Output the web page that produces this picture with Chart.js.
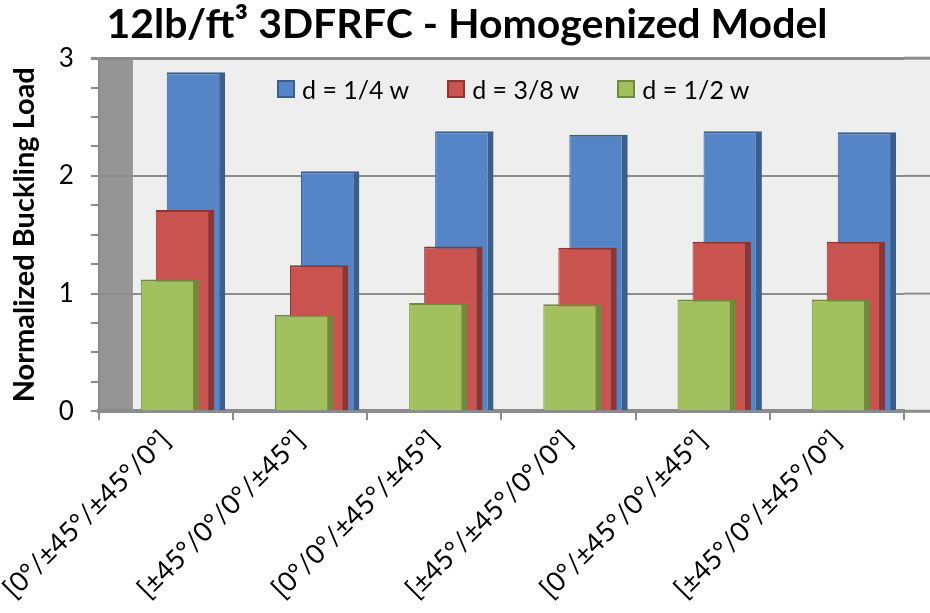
<!DOCTYPE html>
<html>
<head>
<meta charset="utf-8">
<script src="https://cdn.jsdelivr.net/npm/chart.js@4.4.1/dist/chart.umd.min.js"></script>
<style>
  html, body { margin: 0; padding: 0; background: #fff; }
  #wrap { position: relative; width: 930px; height: 613px; }
  #legend { position: absolute; left: 277px; top: 74px; display: flex; font-family: Lato, sans-serif; font-size: 25px; color: #000; }
  #legend .item { display: flex; align-items: center; margin-right: 38px; }
  #legend .box { width: 18px; height: 18px; border: 2px solid; margin-right: 7px; box-sizing: border-box; }
</style>
</head>
<body>
<div id="wrap">
  <canvas id="myChart" width="930" height="613"></canvas>
  <div id="legend"></div>
</div>
<script>
const categories = ['[0°/±45°/±45°/0°]', '[±45°/0°/0°/±45°]', '[0°/0°/±45°/±45°]',
                    '[±45°/±45°/0°/0°]', '[0°/±45°/0°/±45°]', '[±45°/0°/±45°/0°]'];
const seriesNames = ['d = 1/4 w', 'd = 3/8 w', 'd = 1/2 w'];
const quarterW = [2.88, 2.04, 2.38, 2.35, 2.38, 2.37];
const threeEighthW = [1.71, 1.24, 1.40, 1.39, 1.44, 1.44];
const halfW = [1.12, 0.82, 0.92, 0.91, 0.95, 0.95];
const yTicks = [0, 1, 2, 3];

const faces = ['#5585c6', '#c9534f', '#a2c15e'];
const sides = ['#3a5e8d', '#8c3532', '#6f8a3b'];
const shifts = [30, 19, 4]; // fake 3D depth offset, px

const gridGray = '#8c8c8c';

// move each series sideways a bit to look like the stacked-in-depth excel bars
const depthShift = {
    id: 'depthShift',
    afterDatasetsUpdate(chart) {
        chart.data.datasets.forEach((ds, i) => {
            const meta = chart.getDatasetMeta(i);
            meta.data.forEach(el => { el.x += ds.shift; });
        });
    }
};

// back wall, left side wall and grid lines running out to the right edge
const wall = {
    id: 'wall',
    beforeDraw(chart) {
        const { ctx, chartArea } = chart;
        ctx.save();
        ctx.fillStyle = '#eeeeee';
        ctx.fillRect(chartArea.left, chartArea.top, chart.width - chartArea.left, chartArea.bottom - chartArea.top);
        ctx.fillStyle = '#959595';
        ctx.fillRect(chartArea.left, chartArea.top, 34, chartArea.bottom - chartArea.top);
        ctx.restore();
    },
    beforeDatasetsDraw(chart) {
        const { ctx, chartArea, scales } = chart;
        ctx.save();
        ctx.strokeStyle = gridGray;
        yTicks.forEach(v => {
            const y = scales.y.getPixelForValue(v);
            ctx.lineWidth = (v === 0 || v === 3) ? 3 : 2;
            ctx.beginPath();
            ctx.moveTo(chartArea.right, y);
            ctx.lineTo(chart.width, y);
            ctx.stroke();
        });
        ctx.restore();
    }
};

function plotData() {
    const ctx = document.getElementById('myChart').getContext('2d');
    const values = [quarterW, threeEighthW, halfW];
    const datasets = values.map((vals, i) => ({
        label: seriesNames[i],
        data: vals,
        backgroundColor: faces[i],
        borderColor: sides[i],
        borderWidth: { top: 2, right: 6, left: 1, bottom: 0 },
        borderSkipped: false,
        shift: shifts[i],
        order: 3 - i,
        grouped: false,
        categoryPercentage: 1,
        barPercentage: 0.435
    }));

    new Chart(ctx, {
        type: 'bar',
        data: { labels: categories, datasets: datasets },
        options: {
            responsive: false,
            animation: false,
            layout: { padding: { right: 0, left: 4, bottom: 4 } },
            plugins: {
                legend: { display: false },
                tooltip: { enabled: false },
                title: {
                    display: true,
                    text: '12lb/ft³ 3DFRFC - Homogenized Model',
                    color: '#000',
                    font: { family: 'Lato', size: 41, weight: 'bold' },
                    padding: { top: 0, bottom: 9 }
                }
            },
            scales: {
                x: {
                    // slanted first label may hang out left; keep a strip of back wall on the right
                    afterFit: s => { s.paddingLeft = 0; s.paddingRight = 26; },
                    grid: { display: true, drawOnChartArea: false, offset: true, color: gridGray, lineWidth: 2, tickLength: 9 },
                    border: { display: true, color: gridGray, width: 4 },
                    ticks: {
                        color: '#000',
                        font: { family: 'Lato', size: 27 },
                        minRotation: 45,
                        maxRotation: 45,
                        padding: 4
                    }
                },
                y: {
                    min: 0,
                    max: 3,
                    grid: {
                        color: c => Number.isInteger(c.tick.value) ? gridGray : 'rgba(0,0,0,0)',
                        lineWidth: c => (c.tick.value === 3 ? 3 : 2),
                        tickColor: gridGray,
                        tickLength: 8
                    },
                    border: { display: true, color: gridGray, width: 2 },
                    ticks: {
                        stepSize: 0.25,
                        autoSkip: false,
                        color: '#000',
                        font: { family: 'Lato', size: 26 },
                        padding: 17,
                        callback: v => (yTicks.includes(v) ? v : '')
                    },
                    title: {
                        display: true,
                        text: 'Normalized Buckling Load',
                        color: '#000',
                        font: { family: 'Lato', size: 29, weight: 'bold' },
                        padding: { top: 3, bottom: 0 }
                    }
                }
            }
        },
        plugins: [depthShift, wall]
    });

    const legend = document.getElementById('legend');
    seriesNames.forEach((name, i) => {
        const item = document.createElement('div');
        item.className = 'item';
        item.innerHTML = '<span class="box" style="background:' + faces[i] + ';border-color:' + sides[i] + '"></span>' + name;
        legend.appendChild(item);
    });
}

document.addEventListener('DOMContentLoaded', plotData);
</script>
</body>
</html>
